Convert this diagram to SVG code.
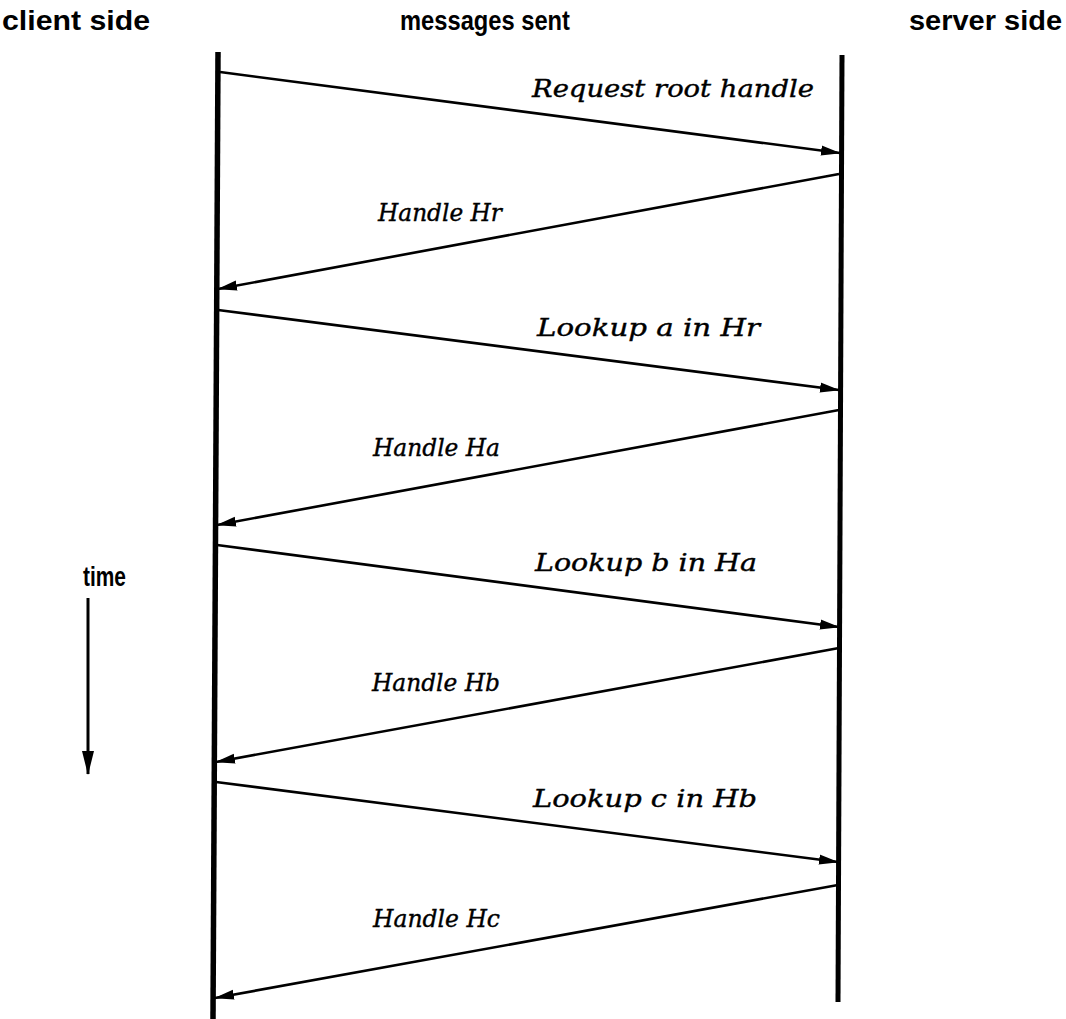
<svg xmlns="http://www.w3.org/2000/svg" width="1066" height="1019" viewBox="0 0 1066 1019">
<defs>
<marker id="ah" viewBox="0 0 20 12" refX="19" refY="6" markerWidth="20" markerHeight="12" markerUnits="userSpaceOnUse" orient="auto">
<path d="M0,1 L20,6 L0,11 Z" fill="#000"/>
</marker>
<marker id="ah2" viewBox="0 0 24 12" refX="23" refY="6" markerWidth="24" markerHeight="12" markerUnits="userSpaceOnUse" orient="auto">
<path d="M0,0 L24,6 L0,12 Z" fill="#000"/>
</marker>
<style>
.hdr{font-family:"Liberation Sans",Arial,sans-serif;font-weight:bold;font-size:27px;fill:#000}
.lbl{font-family:"DejaVu Serif","Liberation Serif",serif;font-style:italic;font-size:25px;fill:#000;stroke:#000;stroke-width:0.4}
.msg{stroke:#000;stroke-width:2.6;fill:none;marker-end:url(#ah)}
.life{stroke:#000;fill:none}
</style>
</defs>
<rect width="1066" height="1019" fill="#fff"/>
<g id="headers">
<text class="hdr" x="2" y="30" textLength="148" lengthAdjust="spacingAndGlyphs">client side</text>
<text class="hdr" x="400" y="30" textLength="170" lengthAdjust="spacingAndGlyphs">messages sent</text>
<text class="hdr" x="909" y="30" textLength="153" lengthAdjust="spacingAndGlyphs">server side</text>
</g>
<g id="client">
<line class="life" x1="218" y1="52" x2="213" y2="1019" stroke-width="5.5"/>
</g>
<g id="server">
<line class="life" x1="842" y1="55" x2="838" y2="1002" stroke-width="5"/>
</g>
<g id="time">
<text class="hdr" x="83" y="586" textLength="43" lengthAdjust="spacingAndGlyphs">time</text>
<line x1="88" y1="598" x2="88" y2="774" stroke="#000" stroke-width="3" marker-end="url(#ah2)"/>
</g>
<g id="connectors">
<line class="msg" x1="220" y1="72" x2="840" y2="153"/>
<line class="msg" x1="839" y1="174" x2="218" y2="289"/>
<line class="msg" x1="218" y1="310" x2="839" y2="390"/>
<line class="msg" x1="839" y1="410" x2="217" y2="525"/>
<line class="msg" x1="217" y1="545" x2="839" y2="627"/>
<line class="msg" x1="839" y1="648" x2="216" y2="762"/>
<line class="msg" x1="216" y1="782" x2="838" y2="862"/>
<line class="msg" x1="838" y1="885" x2="215" y2="998"/>
</g>
<g id="labels">
<text class="lbl" x="532" y="97" textLength="282" lengthAdjust="spacingAndGlyphs">Request root handle</text>
<text class="lbl" x="378" y="221" textLength="124" lengthAdjust="spacingAndGlyphs">Handle Hr</text>
<text class="lbl" x="537" y="336" textLength="223" lengthAdjust="spacingAndGlyphs">Lookup a in Hr</text>
<text class="lbl" x="373" y="456" textLength="127" lengthAdjust="spacingAndGlyphs">Handle Ha</text>
<text class="lbl" x="535" y="571" textLength="222" lengthAdjust="spacingAndGlyphs">Lookup b in Ha</text>
<text class="lbl" x="372" y="691" textLength="128" lengthAdjust="spacingAndGlyphs">Handle Hb</text>
<text class="lbl" x="533" y="807" textLength="224" lengthAdjust="spacingAndGlyphs">Lookup c in Hb</text>
<text class="lbl" x="373" y="927" textLength="127" lengthAdjust="spacingAndGlyphs">Handle Hc</text>
</g>
</svg>
